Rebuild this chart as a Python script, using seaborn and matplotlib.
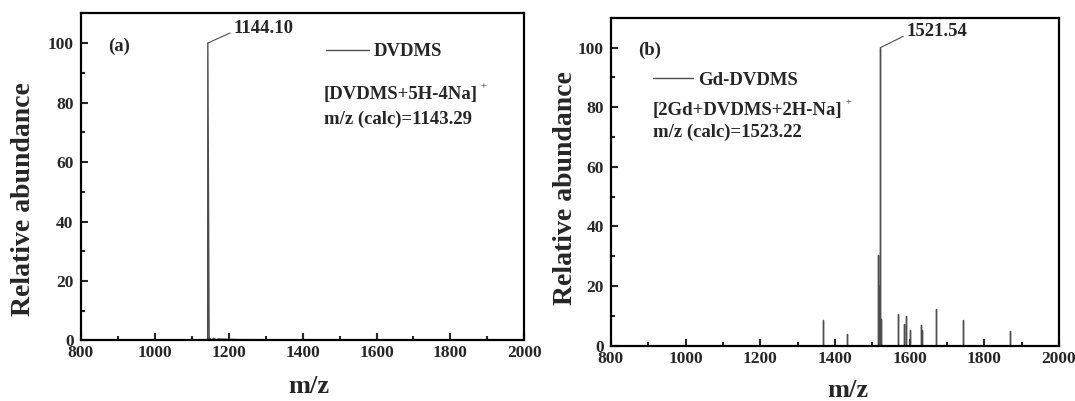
import numpy as np
import pandas as pd
import matplotlib
matplotlib.use("Agg")
import matplotlib.pyplot as plt
from matplotlib.ticker import MultipleLocator
import seaborn as sns

# ---------------- data ----------------
# panel (a): DVDMS spectrum profile
mz_a = [800, 1143.6, 1144.1, 1147.6, 1151, 1155, 1160, 1166, 1172, 1225, 2000]
ab_a = [0, 0, 100, 0, 0.6, 0.1, 0.8, 0.2, 0.5, 0.3, 0]
peak_a_mz, peak_a_ab, peak_a_label = 1144.10, 100, "1144.10"

# panel (b): Gd-DVDMS stick spectrum
mz_b = [1368, 1432, 1516.5, 1518.5, 1520, 1521.54, 1523, 1569.5, 1586, 1590,
        1602, 1629.5, 1633, 1671, 1742, 1868]
ab_b = [8.7, 3.9, 30.5, 20, 8.7, 100, 9, 10.6, 7.4, 10,
        5.4, 7, 5.4, 12.3, 8.5, 5]
peak_b_mz, peak_b_ab, peak_b_label = 1521.54, 100, "1521.54"

x_ticks = [800, 1000, 1200, 1400, 1600, 1800, 2000]
y_ticks = [0, 20, 40, 60, 80, 100]

# ---------------- style ----------------
sns.set_theme(style="ticks")
plt.rcParams["font.family"] = ["Liberation Serif", "DejaVu Serif"]
plt.rcParams["font.weight"] = "bold"
plt.rcParams["axes.linewidth"] = 1.6

fig = plt.figure(figsize=(10.75, 4.01), dpi=100)
ax_a = fig.add_axes([0.0749, 0.1509, 0.413, 0.816])
ax_b = fig.add_axes([0.5682, 0.1379, 0.4169, 0.8175])

line_col = "#4d4d4d"

# panel a profile
df_a = pd.DataFrame({"mz": mz_a, "ab": ab_a})
sns.lineplot(data=df_a, x="mz", y="ab", ax=ax_a, sort=False, estimator=None,
             color=line_col, linewidth=1.0, label="DVDMS")

# panel b sticks
mzb = np.repeat(np.asarray(mz_b, float), 3)
abb = np.column_stack([np.zeros(len(ab_b)), ab_b, np.zeros(len(ab_b))]).ravel()
df_b = pd.DataFrame({"mz": mzb, "ab": abb})
sns.lineplot(data=df_b, x="mz", y="ab", ax=ax_b, sort=False, estimator=None,
             color=line_col, linewidth=1.0, label="Gd-DVDMS")

fs_tick = 12.5
fs_xlab = 19
fs_ylab = 20
fs_txt = 13.5

for ax in (ax_a, ax_b):
    ax.set_xlim(800, 2000)
    ax.set_ylim(0, 110)
    ax.set_xticks(x_ticks)
    ax.set_yticks(y_ticks)
    ax.xaxis.set_minor_locator(MultipleLocator(100))
    ax.yaxis.set_minor_locator(MultipleLocator(10))
    ax.tick_params(which="both", direction="in", width=1.5, top=False, right=False)
    ax.tick_params(which="major", length=5.2)
    ax.tick_params(which="minor", length=2.9)
    ax.tick_params(axis="x", pad=3.5, labelsize=fs_tick)
    ax.tick_params(axis="y", pad=5, labelsize=fs_tick)
    for lbl in ax.get_xticklabels() + ax.get_yticklabels():
        lbl.set_fontweight("bold")
    for s in ax.spines.values():
        s.set_visible(True)
        s.set_linewidth(1.6)
        s.set_color("black")
    ax.set_xlabel("m/z", fontsize=fs_xlab, fontweight="bold")
    ax.set_ylabel("Relative abundance", fontsize=fs_ylab, fontweight="bold")
    ax.xaxis.label.set_va("center")
    ax.yaxis.label.set_va("center")

ax_a.xaxis.set_label_coords(0.5146, -0.142)
ax_a.yaxis.set_label_coords(-0.1286, 0.432)
ax_b.xaxis.set_label_coords(0.530, -0.136)
ax_b.yaxis.set_label_coords(-0.1015, 0.48)

# legends
leg_prop = {"size": fs_txt, "weight": "bold", "family": "Liberation Serif"}
ax_a.legend(loc="center left", bbox_to_anchor=(0.554, 0.8826), frameon=False,
            borderpad=0, borderaxespad=0, handlelength=2.25, handletextpad=0.27,
            prop=leg_prop)
ax_b.legend(loc="center left", bbox_to_anchor=(0.0944, 0.810), frameon=False,
            borderpad=0, borderaxespad=0, handlelength=2.15, handletextpad=0.27,
            prop=leg_prop)


def formula(ax, x, y, s):
    t = ax.text(x, y, s, transform=ax.transAxes, fontsize=fs_txt,
                fontweight="bold", ha="left", va="center")
    ax.annotate("+", xy=(1.0, 0.98), xycoords=t, xytext=(2, 0),
                textcoords="offset points", fontsize=7.5, fontweight="normal",
                ha="left", va="center")
    return t


# texts panel a
ax_a.text(0.0615, 0.8985, "(a)", transform=ax_a.transAxes, fontsize=fs_txt,
          fontweight="bold", ha="left", va="center")
formula(ax_a, 0.548, 0.751, "[DVDMS+5H-4Na]")
ax_a.text(0.548, 0.675, "m/z (calc)=1143.29", transform=ax_a.transAxes,
          fontsize=fs_txt, fontweight="bold", ha="left", va="center")
ax_a.annotate(peak_a_label, xy=(peak_a_mz, peak_a_ab), xytext=(1213, 105),
              fontsize=fs_txt, fontweight="bold", ha="left", va="center",
              arrowprops=dict(arrowstyle="-", color=line_col, lw=0.8,
                              shrinkA=0, shrinkB=0, relpos=(0, 0.3)))

# texts panel b
ax_b.text(0.0614, 0.900, "(b)", transform=ax_b.transAxes, fontsize=fs_txt,
          fontweight="bold", ha="left", va="center")
formula(ax_b, 0.0944, 0.716, "[2Gd+DVDMS+2H-Na]")
ax_b.text(0.0944, 0.650, "m/z (calc)=1523.22", transform=ax_b.transAxes,
          fontsize=fs_txt, fontweight="bold", ha="left", va="center")
ax_b.annotate(peak_b_label, xy=(peak_b_mz, peak_b_ab), xytext=(1592, 105.5),
              fontsize=fs_txt, fontweight="bold", ha="left", va="center",
              arrowprops=dict(arrowstyle="-", color=line_col, lw=0.8,
                              shrinkA=0, shrinkB=0, relpos=(0, 0.3)))

fig.savefig("out.png", dpi=100)
